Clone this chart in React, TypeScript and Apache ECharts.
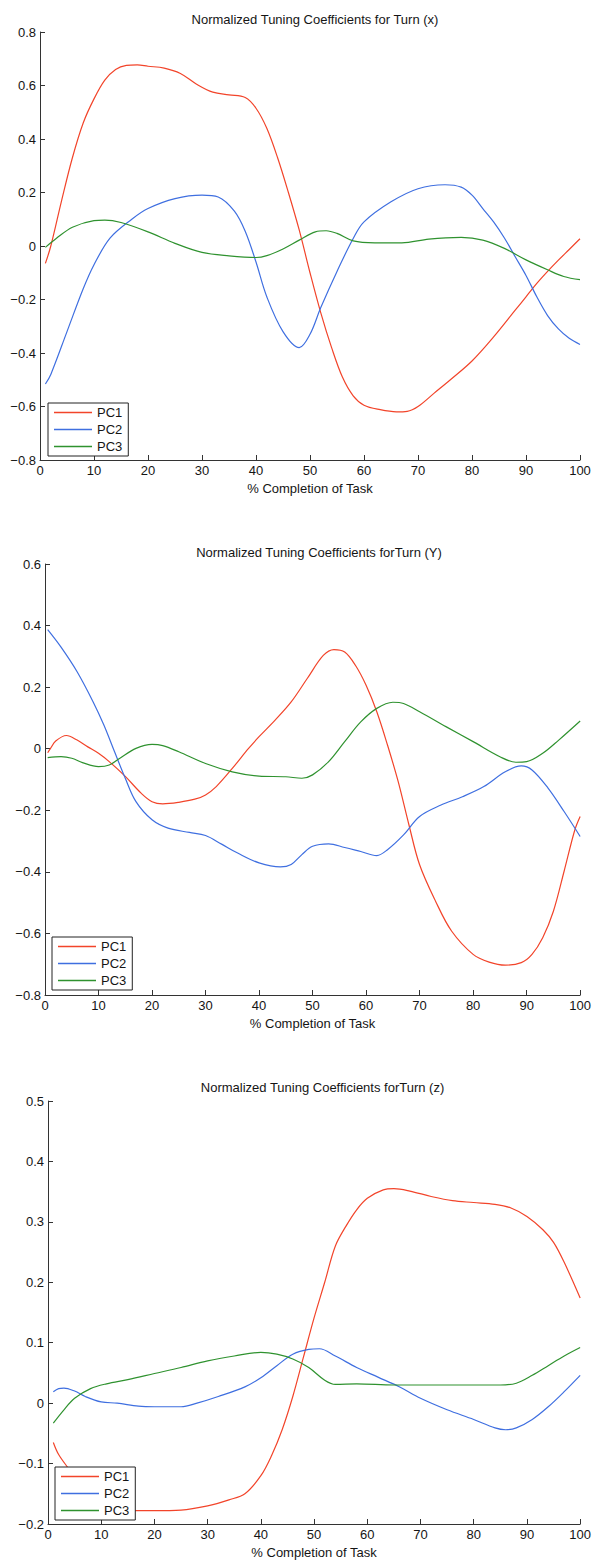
import React, { useEffect, useRef } from "react";
import * as echarts from "echarts";

type Pt = [number, number];

const SERIES_NAMES = ["PC1", "PC2", "PC3"];
const COLORS = ["#f2442a", "#3f6fe0", "#2f922f"];

const TITLES = [
  "Normalized Tuning Coefficients for Turn (x)",
  "Normalized Tuning Coefficients forTurn (Y)",
  "Normalized Tuning Coefficients forTurn (z)",
];
const X_NAME = "% Completion of Task";

// y ranges per panel: [min, max, interval]
const Y_RANGES: [number, number, number][] = [
  [-0.8, 0.8, 0.2],
  [-0.8, 0.6, 0.2],
  [-0.2, 0.5, 0.1],
];

// Turn (x)
const turnX_PC1: Pt[] = [
  [1, -0.065], [2, 0.0], [4, 0.17], [6, 0.33], [8, 0.46], [10, 0.55], [12, 0.62], [14, 0.66],
  [16, 0.675], [18, 0.677], [20, 0.672], [23, 0.665], [26, 0.645], [29, 0.605], [32, 0.575],
  [35, 0.565], [38, 0.555], [40, 0.515], [42, 0.44], [44, 0.33], [46, 0.2], [48, 0.06],
  [50, -0.1], [52, -0.25], [54, -0.38], [56, -0.49], [58, -0.56], [60, -0.595], [63, -0.612],
  [66, -0.62], [68, -0.618], [70, -0.6], [73, -0.55], [76, -0.5], [80, -0.43], [84, -0.34],
  [88, -0.24], [90, -0.19], [92, -0.14], [94, -0.095], [96, -0.053], [98, -0.013], [100, 0.027],
];
const turnX_PC2: Pt[] = [
  [1, -0.516], [2, -0.48], [5, -0.32], [8, -0.16], [10, -0.07], [13, 0.03], [17, 0.1], [20, 0.14],
  [25, 0.177], [30, 0.19], [33, 0.183], [36, 0.13], [38, 0.055], [40, -0.06], [42, -0.19],
  [45, -0.32], [48, -0.38], [50, -0.33], [52, -0.23], [55, -0.095], [58, 0.028], [60, 0.09],
  [65, 0.165], [70, 0.214], [75, 0.229], [78, 0.22], [80, 0.19], [82, 0.14], [84, 0.09],
  [86, 0.03], [88, -0.04], [90, -0.11], [92, -0.19], [94, -0.26], [96, -0.31], [98, -0.345],
  [100, -0.368],
];
const turnX_PC3: Pt[] = [
  [1, -0.005], [3, 0.028], [6, 0.07], [10, 0.095], [12, 0.097], [15, 0.088], [20, 0.053],
  [25, 0.01], [30, -0.024], [35, -0.037], [40, -0.043], [42, -0.036], [45, -0.011], [48, 0.022],
  [51, 0.053], [53, 0.057], [55, 0.047], [58, 0.019], [62, 0.012], [67, 0.012], [72, 0.026],
  [78, 0.032], [82, 0.022], [86, -0.009], [90, -0.052], [94, -0.089], [97, -0.114], [100, -0.126],
];

// Turn (Y)
const turnY_PC1: Pt[] = [
  [0.5, -0.013], [1, 0.0], [2, 0.025], [4, 0.043], [6, 0.028], [8, 0.006], [10, -0.015],
  [12, -0.042], [15, -0.09], [18, -0.145], [20, -0.172], [22, -0.179], [25, -0.174],
  [28, -0.164], [30, -0.15], [32, -0.123], [35, -0.064], [38, 0.0], [40, 0.039], [43, 0.093],
  [46, 0.152], [49, 0.228], [52, 0.303], [54, 0.322], [56, 0.314], [58, 0.271], [60, 0.206],
  [62, 0.12], [64, 0.012], [66, -0.107], [68, -0.247], [70, -0.377], [73, -0.496], [76, -0.593],
  [80, -0.668], [83, -0.693], [86, -0.703], [89, -0.695], [91, -0.668], [93, -0.614],
  [95, -0.528], [97, -0.398], [99, -0.264], [100, -0.22],
];
const turnY_PC2: Pt[] = [
  [0.5, 0.387], [3, 0.33], [6, 0.25], [9, 0.152], [11, 0.077], [13, -0.01], [15, -0.096],
  [17, -0.172], [20, -0.231], [23, -0.258], [27, -0.272], [30, -0.282], [33, -0.31], [36, -0.339],
  [40, -0.371], [44, -0.384], [46, -0.376], [48, -0.344], [50, -0.317], [53, -0.309], [56, -0.321],
  [59, -0.334], [62, -0.347], [64, -0.328], [67, -0.28], [70, -0.22], [74, -0.183], [78, -0.156],
  [82, -0.123], [86, -0.075], [89, -0.056], [91, -0.069], [94, -0.128], [97, -0.204], [100, -0.285],
];
const turnY_PC3: Pt[] = [
  [0.5, -0.029], [3, -0.026], [5, -0.031], [7, -0.045], [10, -0.058], [12, -0.053], [14, -0.031],
  [17, 0.001], [20, 0.014], [22, 0.01], [25, -0.01], [30, -0.048], [35, -0.075], [40, -0.089],
  [45, -0.091], [48, -0.096], [50, -0.085], [53, -0.042], [56, 0.023], [59, 0.087], [62, 0.131],
  [65, 0.151], [67, 0.147], [70, 0.12], [75, 0.071], [80, 0.023], [85, -0.026], [88, -0.044],
  [90, -0.042], [93, -0.015], [96, 0.028], [100, 0.09],
];

// Turn (z)
const turnZ_PC1: Pt[] = [
  [1, -0.065], [2, -0.085], [4, -0.11], [6, -0.135], [8, -0.157], [10, -0.17], [13, -0.177],
  [15, -0.178], [20, -0.178], [25, -0.177], [30, -0.17], [34, -0.16], [37, -0.15], [40, -0.12],
  [42, -0.087], [44, -0.044], [46, 0.011], [48, 0.076], [50, 0.141], [52, 0.2], [54, 0.26],
  [56, 0.293], [58, 0.32], [60, 0.339], [63, 0.353], [65, 0.355], [68, 0.351], [72, 0.342],
  [76, 0.335], [80, 0.332], [84, 0.329], [87, 0.323], [90, 0.309], [93, 0.287], [95, 0.266],
  [97, 0.233], [100, 0.174],
];
const turnZ_PC2: Pt[] = [
  [1, 0.019], [2, 0.024], [3, 0.025], [5, 0.02], [7, 0.011], [10, 0.002], [13, 0.0], [17, -0.005],
  [20, -0.006], [25, -0.006], [28, 0.0], [32, 0.011], [37, 0.027], [40, 0.042], [43, 0.062],
  [46, 0.081], [49, 0.089], [51, 0.09], [54, 0.078], [58, 0.059], [62, 0.043], [66, 0.027],
  [70, 0.008], [75, -0.011], [80, -0.027], [84, -0.041], [86, -0.044], [88, -0.041], [91, -0.027],
  [94, -0.006], [97, 0.019], [100, 0.046],
];
const turnZ_PC3: Pt[] = [
  [1, -0.033], [3, -0.011], [5, 0.008], [8, 0.024], [11, 0.032], [15, 0.039], [20, 0.049],
  [25, 0.059], [30, 0.07], [35, 0.078], [40, 0.084], [43, 0.081], [46, 0.073], [49, 0.059],
  [52, 0.038], [54, 0.031], [58, 0.032], [65, 0.03], [72, 0.03], [80, 0.03], [85, 0.03],
  [88, 0.033], [91, 0.046], [94, 0.062], [97, 0.078], [100, 0.092],
];

const PANELS: Pt[][][] = [
  [turnX_PC1, turnX_PC2, turnX_PC3],
  [turnY_PC1, turnY_PC2, turnY_PC3],
  [turnZ_PC1, turnZ_PC2, turnZ_PC3],
];

const FONT = "'Liberation Sans', Arial, Helvetica, sans-serif";
const INK = "#151515";

// Plot frames of the three stacked panels
const GRIDS = [
  { left: 40, top: 32, width: 540, height: 428 },
  { left: 45, top: 564, width: 538, height: 431 },
  { left: 48, top: 1101, width: 539, height: 423 },
];
const TITLE_TOPS = [8, 541, 1076];
const LEGEND_POS = [
  { left: 48, top: 403 },
  { left: 52, top: 937 },
  { left: 55, top: 1467 },
];

function fmtY(v: number): string {
  const r = Math.round(v * 10) / 10;
  if (r === 0) return "0";
  return (r < 0 ? "\u2212" : "") + String(Math.abs(r));
}

export default function App() {
  const ref = useRef<HTMLDivElement>(null);

  useEffect(() => {
    if (!ref.current) return;
    const chart = echarts.init(ref.current, undefined, { renderer: "svg" });

    const option: any = {
      animation: false,
      backgroundColor: "#ffffff",
      title: TITLES.map((t, i) => ({
        text: t,
        left: GRIDS[i].left + GRIDS[i].width / 2,
        top: TITLE_TOPS[i],
        textAlign: "center",
        textStyle: { fontFamily: FONT, fontSize: 13, fontWeight: "normal", color: INK },
      })),
      grid: GRIDS.map((g) => ({ ...g, containLabel: false })),
      legend: LEGEND_POS.map((p) => ({
        data: SERIES_NAMES,
        orient: "vertical",
        left: p.left,
        top: p.top,
        padding: [3, 6, 3, 6],
        itemGap: 4,
        icon: "rect",
        itemWidth: 38,
        itemHeight: 1.4,
        borderColor: "#222",
        borderWidth: 1,
        borderRadius: 0,
        backgroundColor: "#ffffff",
        selectedMode: false,
        textStyle: { fontFamily: FONT, fontSize: 13, lineHeight: 13, color: INK },
      })),
      xAxis: GRIDS.map((_, i) => ({
        type: "value",
        gridIndex: i,
        min: 0,
        max: 100,
        interval: 10,
        name: X_NAME,
        nameLocation: "middle",
        nameGap: 22,
        nameTextStyle: { fontFamily: FONT, fontSize: 13, color: INK },
        axisLine: { show: true, onZero: false, lineStyle: { color: "#333", width: 1 } },
        axisTick: { show: true, inside: true, length: 5, lineStyle: { color: "#333" } },
        axisLabel: { fontFamily: FONT, fontSize: 13, color: INK, margin: 4, showMaxLabel: true },
        splitLine: { show: false },
      })),
      yAxis: GRIDS.map((_, i) => ({
        type: "value",
        gridIndex: i,
        min: Y_RANGES[i][0],
        max: Y_RANGES[i][1],
        interval: Y_RANGES[i][2],
        axisLine: { show: true, onZero: false, lineStyle: { color: "#333", width: 1 } },
        axisTick: { show: true, inside: true, length: 5, lineStyle: { color: "#333" } },
        axisLabel: { fontFamily: FONT, fontSize: 13, color: INK, margin: 4, formatter: fmtY },
        splitLine: { show: false },
      })),
      series: PANELS.flatMap((panel, i) =>
        panel.map((data, k) => ({
          type: "line",
          name: SERIES_NAMES[k],
          xAxisIndex: i,
          yAxisIndex: i,
          data,
          smooth: 0.35,
          symbol: "none",
          color: COLORS[k],
          lineStyle: { color: COLORS[k], width: 1.2 },
        }))
      ),
    };

    chart.setOption(option);
    return () => chart.dispose();
  }, []);

  return (
    <div
      ref={ref}
      style={{ position: "absolute", left: 0, top: 0, width: 594, height: 1562 }}
    />
  );
}
